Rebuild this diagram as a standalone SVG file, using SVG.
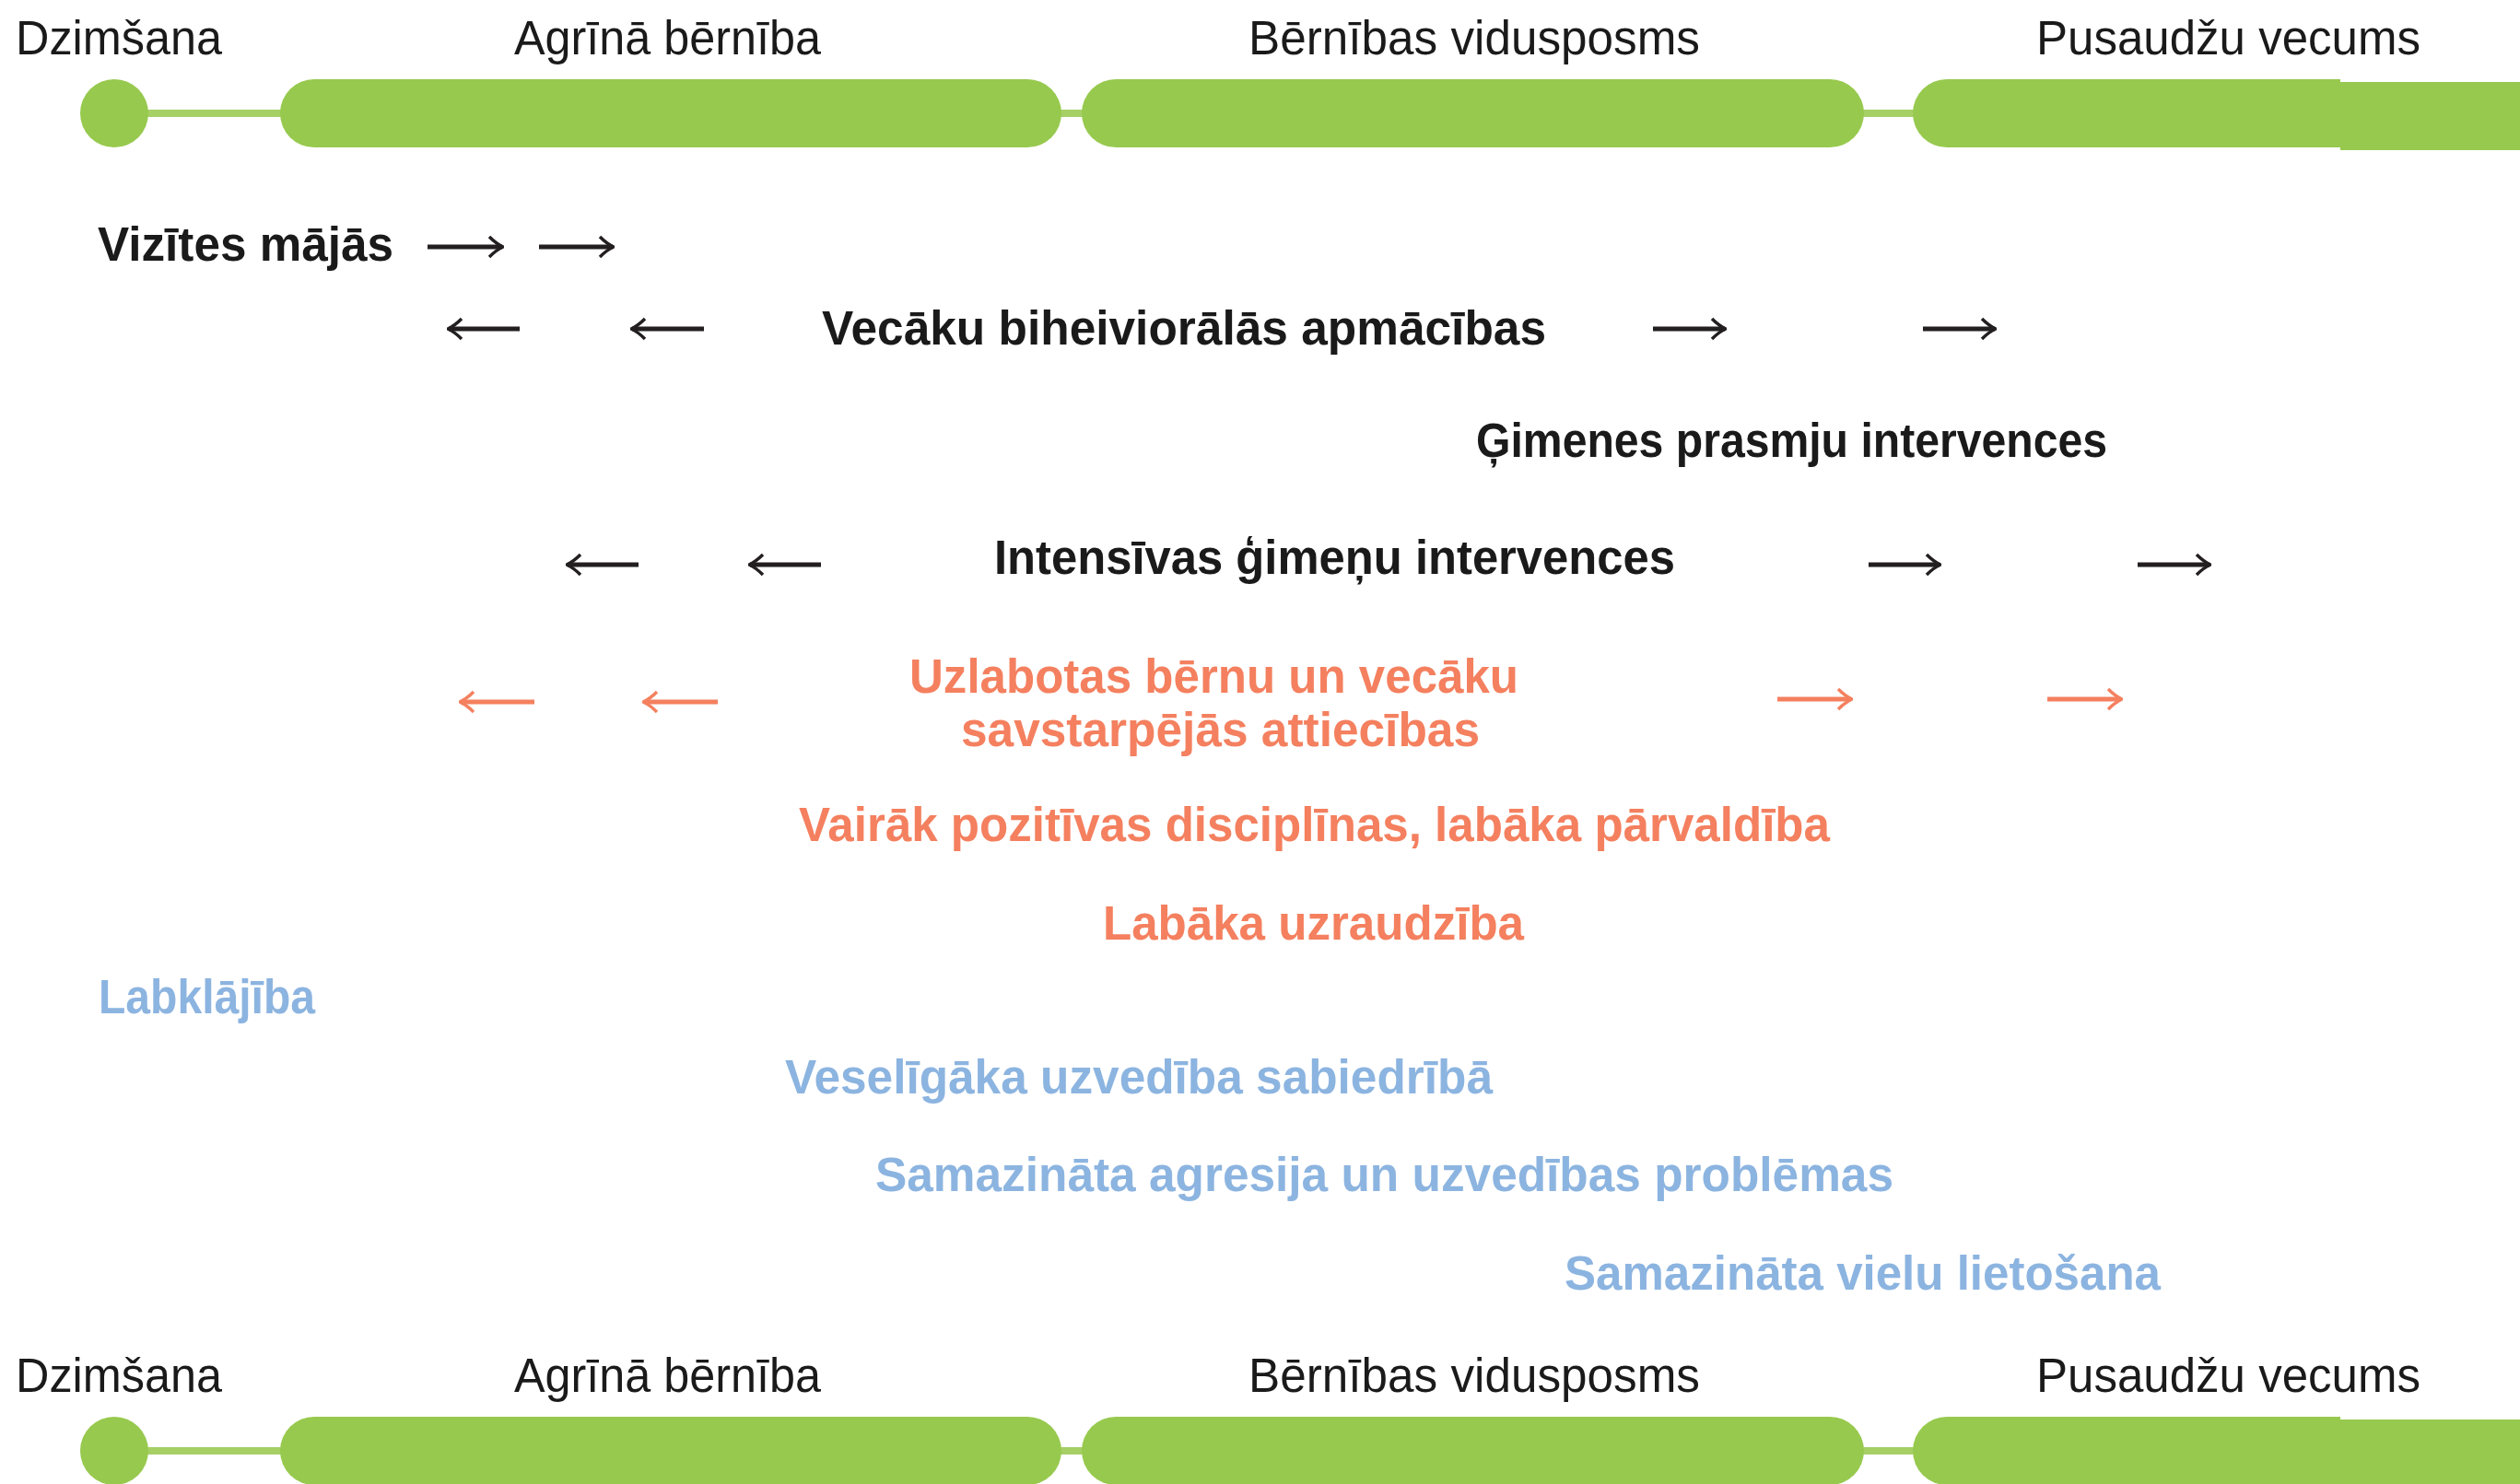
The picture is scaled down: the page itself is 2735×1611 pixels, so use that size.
<svg xmlns="http://www.w3.org/2000/svg" width="2735" height="1611" viewBox="0 0 2735 1611">
<style>
.lbl{font-family:"Liberation Sans",Arial,sans-serif;font-size:51px;fill:#1a1a1a}
.b{font-family:"Liberation Sans",Arial,sans-serif;font-size:51px;font-weight:bold}
.k{fill:#1a1a1a}
.o{fill:#f4805f}
.u{fill:#8cb4e0}
.g{fill:#97c94e}
.lnk{stroke:#a6d066;stroke-width:8}
.ak{stroke:#231f20;stroke-width:5;fill:none}
.ao{stroke:#f4805f;stroke-width:5;fill:none}
</style>
<defs>
<marker id="hk" viewBox="0 0 20 26" markerWidth="20" markerHeight="26" refX="18" refY="13" orient="auto" markerUnits="userSpaceOnUse">
<path d="M4 2 Q12 10 19 13 Q12 16 4 24" fill="none" stroke="#231f20" stroke-width="3.5"/>
</marker>
<marker id="ho" viewBox="0 0 20 26" markerWidth="20" markerHeight="26" refX="18" refY="13" orient="auto" markerUnits="userSpaceOnUse">
<path d="M4 2 Q12 10 19 13 Q12 16 4 24" fill="none" stroke="#f4805f" stroke-width="3.5"/>
</marker>
<g id="timeline">
<line class="lnk" x1="124" y1="123" x2="310" y2="123"/>
<line class="lnk" x1="1150" y1="123" x2="1178" y2="123"/>
<line class="lnk" x1="2020" y1="123" x2="2080" y2="123"/>
<circle class="g" cx="124" cy="123" r="37"/>
<rect class="g" x="304" y="86" width="848" height="74" rx="37"/>
<rect class="g" x="1174" y="86" width="849" height="74" rx="37"/>
<path class="g" d="M2113 86 H2540 V160 H2113 A37 37 0 0 1 2113 86 Z"/>
<rect class="g" x="2540" y="89" width="195" height="74"/>
<text class="lbl" x="17" y="59" textLength="224" lengthAdjust="spacingAndGlyphs">Dzimšana</text>
<text class="lbl" x="558" y="59" textLength="333" lengthAdjust="spacingAndGlyphs">Agrīnā bērnība</text>
<text class="lbl" x="1355" y="59" textLength="490" lengthAdjust="spacingAndGlyphs">Bērnības vidusposms</text>
<text class="lbl" x="2210" y="59" textLength="417" lengthAdjust="spacingAndGlyphs">Pusaudžu vecums</text>
</g>
</defs>
<rect width="2735" height="1611" fill="#ffffff"/>
<g id="timeline-top"><use href="#timeline"/></g>
<g id="timeline-bottom"><use href="#timeline" transform="translate(0,1452)"/></g>

<g id="n-vizites"><text class="b k" x="106" y="283" textLength="321" lengthAdjust="spacingAndGlyphs">Vizītes mājās</text></g>
<g id="n-vecaku"><text class="b k" x="892" y="374" textLength="786" lengthAdjust="spacingAndGlyphs">Vecāku biheiviorālās apmācības</text></g>
<g id="n-gimenes"><text class="b k" x="1602" y="496" textLength="685" lengthAdjust="spacingAndGlyphs">Ģimenes prasmju intervences</text></g>
<g id="n-intensivas"><text class="b k" x="1079" y="623" textLength="739" lengthAdjust="spacingAndGlyphs">Intensīvas ģimeņu intervences</text></g>
<g id="n-uzlabotas"><text class="b o"><tspan x="987" y="752" textLength="661" lengthAdjust="spacingAndGlyphs">Uzlabotas bērnu un vecāku</tspan><tspan x="1043" y="810" textLength="563" lengthAdjust="spacingAndGlyphs">savstarpējās attiecības</tspan></text></g>
<g id="n-vairak"><text class="b o" x="867" y="913" textLength="1119" lengthAdjust="spacingAndGlyphs">Vairāk pozitīvas disciplīnas, labāka pārvaldība</text></g>
<g id="n-labaka"><text class="b o" x="1197" y="1020" textLength="457" lengthAdjust="spacingAndGlyphs">Labāka uzraudzība</text></g>
<g id="n-labklajiba"><text class="b u" x="107" y="1100" textLength="235" lengthAdjust="spacingAndGlyphs">Labklājība</text></g>
<g id="n-veseligaka"><text class="b u" x="852" y="1187" textLength="768" lengthAdjust="spacingAndGlyphs">Veselīgāka uzvedība sabiedrībā</text></g>
<g id="n-agresija"><text class="b u" x="950" y="1293" textLength="1105" lengthAdjust="spacingAndGlyphs">Samazināta agresija un uzvedības problēmas</text></g>
<g id="n-vielu"><text class="b u" x="1698" y="1400" textLength="647" lengthAdjust="spacingAndGlyphs">Samazināta vielu lietošana</text></g>

<g id="connectors">
<line class="ak" x1="464" y1="268" x2="545" y2="268" marker-end="url(#hk)"/>
<line class="ak" x1="585" y1="268" x2="665" y2="268" marker-end="url(#hk)"/>
<line class="ak" x1="564" y1="357" x2="487" y2="357" marker-end="url(#hk)"/>
<line class="ak" x1="764" y1="357" x2="686" y2="357" marker-end="url(#hk)"/>
<line class="ak" x1="1794" y1="357" x2="1872" y2="357" marker-end="url(#hk)"/>
<line class="ak" x1="2087" y1="357" x2="2165" y2="357" marker-end="url(#hk)"/>
<line class="ak" x1="693" y1="613" x2="616" y2="613" marker-end="url(#hk)"/>
<line class="ak" x1="891" y1="613" x2="814" y2="613" marker-end="url(#hk)"/>
<line class="ak" x1="2028" y1="613" x2="2105" y2="613" marker-end="url(#hk)"/>
<line class="ak" x1="2320" y1="613" x2="2398" y2="613" marker-end="url(#hk)"/>
<line class="ao" x1="580" y1="762" x2="500" y2="762" marker-end="url(#ho)"/>
<line class="ao" x1="779" y1="762" x2="699" y2="762" marker-end="url(#ho)"/>
<line class="ao" x1="1929" y1="759" x2="2009" y2="759" marker-end="url(#ho)"/>
<line class="ao" x1="2222" y1="759" x2="2302" y2="759" marker-end="url(#ho)"/>
</g>
</svg>
